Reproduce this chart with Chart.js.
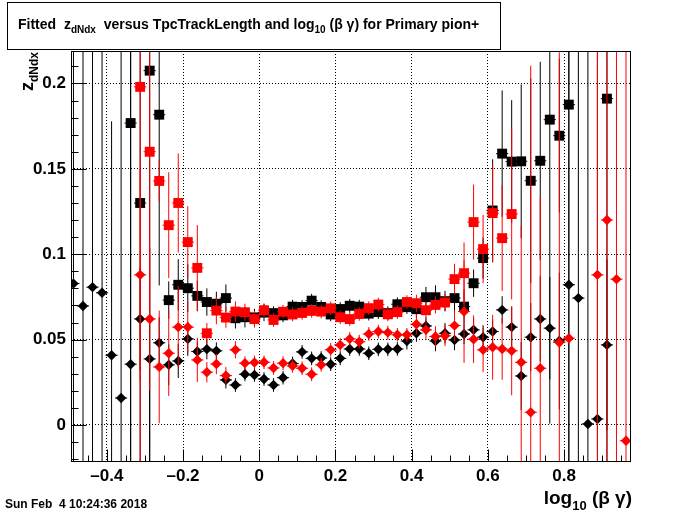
<!DOCTYPE html>
<html>
<head>
<meta charset="utf-8">
<title>Fitted zdNdx vs log10(bg)</title>
<script src="https://cdn.jsdelivr.net/npm/chart.js@4.4.1/dist/chart.umd.min.js"></script>
<style>
  html, body { margin: 0; padding: 0; background: #fff; }
  #wrap { width: 700px; height: 514px; position: relative; }
</style>
</head>
<body>
<div id="wrap"><canvas id="chartZdNdx" width="700" height="514"></canvas></div>
<script>
// bin centres of log10(beta gamma), bin width 0.025
const binCenters = [
  -0.4875, -0.4625, -0.4375, -0.4125, -0.3875, -0.3625, -0.3375, -0.3125, -0.2875, -0.2625,
  -0.2375, -0.2125, -0.1875, -0.1625, -0.1375, -0.1125, -0.0875, -0.0625, -0.0375, -0.0125,
  0.0125, 0.0375, 0.0625, 0.0875, 0.1125, 0.1375, 0.1625, 0.1875, 0.2125, 0.2375,
  0.2625, 0.2875, 0.3125, 0.3375, 0.3625, 0.3875, 0.4125, 0.4375, 0.4625, 0.4875,
  0.5125, 0.5375, 0.5625, 0.5875, 0.6125, 0.6375, 0.6625, 0.6875, 0.7125, 0.7375,
  0.7625, 0.7875, 0.8125, 0.8375, 0.8625, 0.8875, 0.9125, 0.9375, 0.9625
]

const blackSquares = [
  null, null, null, null, null, null, 0.1768, 0.130, 0.2075, 0.1817,
  0.0731, 0.0821, 0.0801, 0.0756, 0.0720, 0.0710, 0.0743, 0.0625, 0.0631, 0.0630,
  0.0658, 0.0655, 0.0642, 0.0693, 0.0691, 0.0728, 0.0691, 0.0647, 0.0679, 0.0698,
  0.0693, 0.0652, 0.0661, 0.0655, 0.0707, 0.0690, 0.0678, 0.0748, 0.0748, 0.0725,
  0.0743, 0.0693, 0.0830, 0.0977, 0.1256, 0.1589, 0.1542, 0.1544, 0.1430, 0.1547,
  0.1788, 0.1694, 0.1876, null, null, null, 0.1911, null, null
]
const blackSquaresErr = [
  null, null, null, null, null, null, 0.3, 0.3, 0.3, 0.1,
  0.011, 0.015, 0.014, 0.009, 0.008, 0.007, 0.008, 0.006, 0.006, 0.005,
  0.005, 0.004, 0.004, 0.004, 0.004, 0.004, 0.004, 0.004, 0.004, 0.004,
  0.004, 0.004, 0.004, 0.004, 0.004, 0.004, 0.005, 0.006, 0.007, 0.006,
  0.008, 0.010, 0.008, 0.012, 0.030, 0.037, 0.036, 0.045, 0.060, 0.058,
  0.178, 0.045, 0.3, null, null, null, 0.3, null, null
]

const redSquares = [
  null, null, null, null, null, null, null, 0.198, 0.160, 0.1429,
  0.117, 0.130, 0.1071, 0.092, 0.0537, 0.0670, 0.0629, 0.0664, 0.0660, 0.0620,
  0.0672, 0.0615, 0.0663, 0.0647, 0.0656, 0.0668, 0.0664, 0.0683, 0.0631, 0.0620,
  0.0650, 0.0684, 0.0705, 0.0648, 0.0661, 0.0720, 0.0713, 0.0672, 0.0703, 0.0717,
  0.0854, 0.0889, 0.1188, 0.1030, 0.1241, 0.1094, 0.1235, null, null, null,
  null, null, null, null, null, null, null, null, null
]
const redSquaresErr = [
  null, null, null, null, null, null, null, 0.3, 0.1, 0.012,
  0.031, 0.029, 0.021, 0.025, 0.006, 0.008, 0.006, 0.006, 0.005, 0.005,
  0.004, 0.004, 0.004, 0.004, 0.004, 0.004, 0.004, 0.004, 0.004, 0.004,
  0.004, 0.004, 0.004, 0.004, 0.004, 0.004, 0.005, 0.005, 0.005, 0.005,
  0.009, 0.018, 0.022, 0.020, 0.029, 0.031, 0.050, null, null, null,
  null, null, null, null, null, null, null, null, null
]

const blackDiamonds = [
  0.0828, 0.0697, 0.0807, 0.0774, 0.0408, 0.0158, 0.0356, 0.0621, 0.0387, 0.0481,
  0.0352, 0.0375, 0.0504, 0.0430, 0.0444, 0.0434, 0.0264, 0.0234, 0.0297, 0.0293,
  0.0269, 0.0234, 0.0277, 0.0360, 0.0428, 0.0390, 0.0392, 0.0356, 0.0390, 0.0445,
  0.0445, 0.0420, 0.0443, 0.0443, 0.0445, 0.0492, 0.0537, 0.0580, 0.0492, 0.0537,
  0.0498, 0.0533, 0.0557, 0.0514, 0.0547, 0.0674, 0.0573, 0.0287, 0.0514, 0.0621,
  0.0567, 0.0492, 0.0821, 0.0743, 0.0006, 0.0035, 0.0469, null, null
]
const blackDiamondsErr = [
  0.3, 0.3, 0.3, 0.3, 0.137, 0.3, 0.3, 0.030, 0.065, 0.015,
  0.012, 0.010, 0.010, 0.006, 0.006, 0.005, 0.005, 0.004, 0.004, 0.004,
  0.004, 0.004, 0.004, 0.004, 0.004, 0.004, 0.004, 0.004, 0.004, 0.004,
  0.004, 0.004, 0.004, 0.004, 0.004, 0.005, 0.005, 0.005, 0.006, 0.006,
  0.006, 0.006, 0.007, 0.007, 0.007, 0.008, 0.012, 0.020, 0.020, 0.025,
  0.030, 0.040, 0.3, 0.3, 0.3, 0.3, 0.050, null, null
]

const redDiamonds = [
  null, null, null, null, null, null, null, 0.0879, 0.0621, 0.0340,
  0.0420, 0.0573, 0.0573, 0.0381, 0.0309, 0.0357, 0.0289, 0.0440, 0.0362, 0.0366,
  0.0367, 0.0334, 0.0362, 0.0346, 0.0332, 0.0297, 0.0352, 0.0440, 0.0469, 0.0504,
  0.0488, 0.0533, 0.0547, 0.0541, 0.0528, 0.0528, 0.0590, 0.0557, 0.0518, 0.0522,
  0.0582, 0.0664, 0.0502, 0.0440, 0.0455, 0.0445, 0.0434, 0.0367, 0.0074, 0.0332,
  null, 0.0483, 0.0508, null, null, 0.0879, 0.1200, 0.0854, -0.0092
]
const redDiamondsErr = [
  null, null, null, null, null, null, null, 0.062, 0.042, 0.033,
  0.025, 0.024, 0.015, 0.013, 0.006, 0.006, 0.005, 0.005, 0.004, 0.004,
  0.004, 0.004, 0.004, 0.004, 0.004, 0.004, 0.004, 0.004, 0.004, 0.004,
  0.004, 0.004, 0.004, 0.004, 0.004, 0.004, 0.006, 0.006, 0.006, 0.006,
  0.009, 0.030, 0.014, 0.013, 0.019, 0.018, 0.026, 0.080, 0.203, 0.100,
  null, 0.170, 0.003, null, null, 0.3, 0.3, 0.3, 0.3
]

const xTickValues = [-0.4, -0.2, 0, 0.2, 0.4, 0.6, 0.8]
const xTickLabels = ['\u20130.4', '\u20130.2', '0', '0.2', '0.4', '0.6', '0.8']
const yTickValues = [0, 0.05, 0.1, 0.15, 0.2]
const yTickLabels = ['0', '0.05', '0.1', '0.15', '0.2']

const X_MIN = -0.494
const X_MAX = 0.973
const Y_MIN = -0.0211
const Y_MAX = 0.219
const FONT = 'Liberation Sans'

function toPoints (values, errors) {
  const pts = []
  binCenters.forEach((x, i) => {
    if (values[i] !== null) pts.push({ x: x, y: values[i], err: errors[i] })
  })
  return pts
}

// vertical error bars + short horizontal ticks, drawn just before each dataset's markers
const errorBarPlugin = {
  id: 'errorBars',
  beforeDatasetDraw (chart, args) {
    const ds = chart.data.datasets[args.index]
    const { ctx, chartArea, scales } = chart
    ctx.save()
    ctx.beginPath()
    ctx.rect(chartArea.left, chartArea.top, chartArea.right - chartArea.left, chartArea.bottom - chartArea.top)
    ctx.clip()
    ctx.strokeStyle = ds.backgroundColor
    ctx.lineWidth = 1
    ds.data.forEach(p => {
      const px = scales.x.getPixelForValue(p.x)
      const py = scales.y.getPixelForValue(p.y)
      ctx.beginPath()
      ctx.moveTo(px, scales.y.getPixelForValue(p.y - p.err))
      ctx.lineTo(px, scales.y.getPixelForValue(p.y + p.err))
      ctx.moveTo(scales.x.getPixelForValue(p.x - 0.016), py)
      ctx.lineTo(scales.x.getPixelForValue(p.x + 0.016), py)
      ctx.stroke()
    })
    ctx.restore()
  }
}

function drawParts (ctx, parts, x, y) {
  parts.forEach(p => {
    ctx.font = 'bold ' + p.size + 'px "' + FONT + '"'
    ctx.fillText(p.text, x, y + (p.dy || 0))
    x += ctx.measureText(p.text).width
  })
  return x
}

function partsWidth (ctx, parts) {
  let w = 0
  parts.forEach(p => {
    ctx.font = 'bold ' + p.size + 'px "' + FONT + '"'
    w += ctx.measureText(p.text).width
  })
  return w
}

// frame, inside ticks, titles and date stamp
const framePlugin = {
  id: 'rootFrame',
  afterDraw (chart) {
    const { ctx, chartArea, scales } = chart
    const l = Math.round(chartArea.left) + 0.5
    const r = Math.round(chartArea.right) + 0.5
    const t = Math.round(chartArea.top) + 0.5
    const b = Math.round(chartArea.bottom) + 0.5
    ctx.save()
    ctx.strokeStyle = '#000'
    ctx.fillStyle = '#000'
    ctx.lineWidth = 1
    ctx.strokeRect(l, t, r - l, b - t)

    ctx.beginPath()
    for (let v = -0.45; v < X_MAX; v += 0.05) {
      const px = Math.round(scales.x.getPixelForValue(v)) + 0.5
      const major = Math.abs(v / 0.2 - Math.round(v / 0.2)) < 1e-6
      ctx.moveTo(px, b)
      ctx.lineTo(px, b - (major ? 12 : 6))
    }
    for (let v = -0.02; v < Y_MAX; v += 0.01) {
      const py = Math.round(scales.y.getPixelForValue(v)) + 0.5
      const major = Math.abs(v / 0.05 - Math.round(v / 0.05)) < 1e-6
      ctx.moveTo(l, py)
      ctx.lineTo(l + (major ? 15 : 7), py)
    }
    ctx.stroke()

    // title box
    ctx.fillStyle = '#fff'
    ctx.fillRect(7.5, 2.5, 493, 47)
    ctx.strokeRect(7.5, 2.5, 493, 47)
    ctx.fillStyle = '#000'
    ctx.textBaseline = 'alphabetic'
    ctx.textAlign = 'left'
    drawParts(ctx, [
      { text: 'Fitted  z', size: 14 },
      { text: 'dNdx', size: 10, dy: 4 },
      { text: '  versus TpcTrackLength and log', size: 14 },
      { text: '10', size: 10, dy: 4 },
      { text: ' (\u03B2 \u03B3) for Primary pion+', size: 14 }
    ], 18, 29)

    // x axis title, right aligned at the frame end
    const xTitle = [
      { text: 'log', size: 19 },
      { text: '10', size: 13, dy: 6 },
      { text: ' (\u03B2 \u03B3)', size: 19 }
    ]
    drawParts(ctx, xTitle, 632 - partsWidth(ctx, xTitle), 504)

    // y axis title, rotated, ending at the top of the frame
    const yTitle = [
      { text: 'z', size: 18 },
      { text: 'dNdx', size: 12, dy: 5 }
    ]
    ctx.save()
    ctx.translate(33, 52)
    ctx.rotate(-Math.PI / 2)
    drawParts(ctx, yTitle, -partsWidth(ctx, yTitle), 0)
    ctx.restore()

    ctx.font = 'bold 12px "' + FONT + '"'
    ctx.fillText('Sun Feb  4 10:24:36 2018', 5, 508)
    ctx.restore()
  }
}

const tickFont = { family: FONT, size: 17, weight: 'bold' }

new Chart(document.getElementById('chartZdNdx'), {
  type: 'scatter',
  data: {
    datasets: [
      { label: 'black squares', data: toPoints(blackSquares, blackSquaresErr), order: 4, backgroundColor: '#000000', pointStyle: 'rect', pointRadius: 7, pointBorderWidth: 0 },
      { label: 'black diamonds', data: toPoints(blackDiamonds, blackDiamondsErr), order: 3, backgroundColor: '#000000', pointStyle: 'rectRot', pointRadius: 5.2, pointBorderWidth: 0 },
      { label: 'red squares', data: toPoints(redSquares, redSquaresErr), order: 2, backgroundColor: '#ff0000', pointStyle: 'rect', pointRadius: 7, pointBorderWidth: 0 },
      { label: 'red diamonds', data: toPoints(redDiamonds, redDiamondsErr), order: 1, backgroundColor: '#ff0000', pointStyle: 'rectRot', pointRadius: 5.2, pointBorderWidth: 0 }
    ]
  },
  options: {
    responsive: false,
    devicePixelRatio: 1,
    animation: false,
    layout: { padding: { top: 51, right: 70, bottom: 0, left: 0 } },
    plugins: { legend: { display: false }, tooltip: { enabled: false } },
    scales: {
      x: {
        type: 'linear',
        min: X_MIN,
        max: X_MAX,
        afterBuildTicks: (scale) => { scale.ticks = xTickValues.map(v => ({ value: v })) },
        afterFit: (scale) => { scale.height = 53 },
        ticks: { autoSkip: false, maxRotation: 0, padding: 5, color: '#000', font: tickFont, callback: (v, i) => xTickLabels[i] },
        grid: { color: '#000', lineWidth: 1, drawTicks: false },
        border: { display: false, dash: [1, 2] }
      },
      y: {
        type: 'linear',
        min: Y_MIN,
        max: Y_MAX,
        afterBuildTicks: (scale) => { scale.ticks = yTickValues.map(v => ({ value: v })) },
        afterFit: (scale) => { scale.width = 71 },
        ticks: { autoSkip: false, padding: 5, color: '#000', font: tickFont, callback: (v, i) => yTickLabels[i] },
        grid: { color: '#000', lineWidth: 1, drawTicks: false },
        border: { display: false, dash: [1, 2] }
      }
    }
  },
  plugins: [errorBarPlugin, framePlugin]
})
</script>
</body>
</html>
